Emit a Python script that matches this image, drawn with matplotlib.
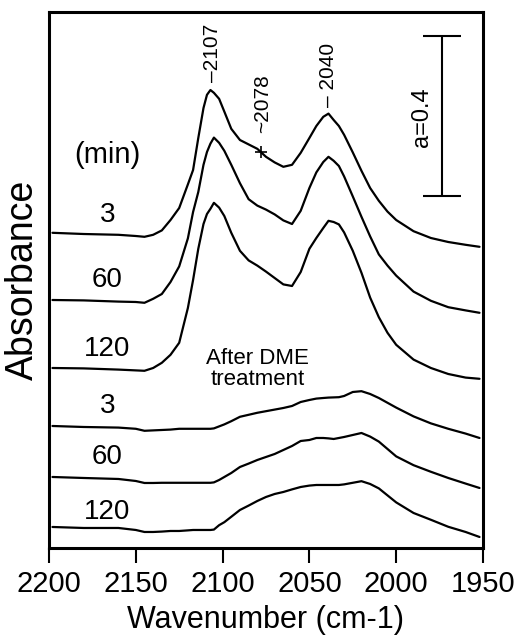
import numpy as np
import matplotlib
matplotlib.use("Agg")
import matplotlib.pyplot as plt

plt.rcParams['font.family'] = ['Liberation Sans', 'DejaVu Sans']

# wavenumber grid (cm-1) shared by all spectra
wavenumber = [2198, 2180, 2160, 2150, 2145, 2140, 2135, 2130, 2125, 2120,
              2117, 2114, 2111, 2109, 2107, 2105, 2102, 2099, 2095, 2090,
              2085, 2080, 2075, 2070, 2065, 2060, 2055, 2050, 2046, 2042,
              2039, 2036, 2033, 2030, 2025, 2020, 2015, 2010, 2005, 2000,
              1990, 1980, 1970, 1960, 1952]

# absorbance traces as displayed (vertically offset)
before_3 = [0.788, 0.785, 0.783, 0.780, 0.778, 0.783, 0.794, 0.820, 0.850, 0.909,
            0.945, 1.025, 1.100, 1.133, 1.145, 1.138, 1.123, 1.091, 1.048, 1.020,
            1.009, 0.998, 0.978, 0.964, 0.953, 0.958, 0.988, 1.025, 1.055, 1.078,
            1.086, 1.070, 1.055, 1.033, 0.989, 0.943, 0.900, 0.868, 0.841, 0.820,
            0.792, 0.775, 0.765, 0.758, 0.753]
before_60 = [0.620, 0.619, 0.616, 0.615, 0.613, 0.623, 0.635, 0.665, 0.704, 0.774,
             0.840, 0.890, 0.958, 0.990, 1.011, 1.026, 1.013, 0.993, 0.958, 0.912,
             0.872, 0.856, 0.846, 0.834, 0.819, 0.810, 0.843, 0.900, 0.939, 0.965,
             0.978, 0.968, 0.955, 0.929, 0.879, 0.828, 0.779, 0.734, 0.706, 0.681,
             0.641, 0.618, 0.602, 0.594, 0.588]
before_120 = [0.450, 0.449, 0.446, 0.444, 0.443, 0.450, 0.463, 0.483, 0.513, 0.600,
              0.670, 0.748, 0.810, 0.835, 0.848, 0.863, 0.851, 0.830, 0.788, 0.743,
              0.719, 0.706, 0.691, 0.675, 0.659, 0.655, 0.690, 0.748, 0.775, 0.800,
              0.818, 0.815, 0.809, 0.789, 0.743, 0.688, 0.626, 0.577, 0.538, 0.508,
              0.471, 0.450, 0.435, 0.426, 0.423]
after_3 = [0.305, 0.3025, 0.301, 0.298, 0.293, 0.294, 0.295, 0.296, 0.298, 0.298,
           0.298, 0.298, 0.298, 0.298, 0.298, 0.299, 0.304, 0.309, 0.317, 0.328,
           0.333, 0.338, 0.342, 0.346, 0.350, 0.355, 0.365, 0.370, 0.3735, 0.375,
           0.376, 0.3765, 0.377, 0.380, 0.390, 0.392, 0.385, 0.375, 0.363, 0.351,
           0.329, 0.3115, 0.298, 0.286, 0.275]
after_60 = [0.1775, 0.175, 0.1725, 0.1675, 0.1625, 0.1625, 0.163, 0.163, 0.163, 0.163,
            0.163, 0.163, 0.163, 0.163, 0.163, 0.164, 0.170, 0.1775, 0.1875, 0.2025,
            0.211, 0.220, 0.2275, 0.235, 0.245, 0.255, 0.2675, 0.270, 0.275, 0.275,
            0.274, 0.2725, 0.275, 0.2775, 0.2825, 0.2875, 0.2785, 0.266, 0.2475, 0.229,
            0.207, 0.1905, 0.175, 0.161, 0.150]
after_120 = [0.0525, 0.050, 0.050, 0.045, 0.040, 0.040, 0.041, 0.0425, 0.0425, 0.044,
             0.045, 0.045, 0.045, 0.045, 0.045, 0.046, 0.057, 0.0645, 0.078, 0.095,
             0.106, 0.1175, 0.1275, 0.135, 0.140, 0.1465, 0.1525, 0.156, 0.1575, 0.1575,
             0.1575, 0.1575, 0.1575, 0.159, 0.163, 0.167, 0.160, 0.149, 0.1315, 0.114,
             0.0875, 0.0705, 0.053, 0.040, 0.0275]

spectra = [before_3, before_60, before_120, after_3, after_60, after_120]
time_labels = ['3', '60', '120', '3', '60', '120']
label_pos = [0.8325, 0.670, 0.4975, 0.355, 0.2275, 0.090]

peak_labels = ['\u20132107', '~2078', '\u2013 2040']
peak_pos = [2106, 2077, 2039]
scale_bar = 0.4

fig = plt.figure(figsize=(5.19, 6.36), dpi=100)
ax = fig.add_axes([0.0944, 0.1384, 0.8362, 0.8427])

for y in spectra:
    ax.plot(wavenumber, y, color='black', linewidth=1.6,
            solid_joinstyle='round', solid_capstyle='round')

for lab, ypos in zip(time_labels, label_pos):
    ax.text(2166.5, ypos, lab, fontsize=20, ha='center', va='center')
ax.text(2166.5, 0.9825, '(min)', fontsize=21, ha='center', va='center')
ax.text(2080, 0.4475, 'After DME\ntreatment', fontsize=16, ha='center',
        va='center', linespacing=0.95)

# peak annotations
ax.text(peak_pos[0], 1.165, peak_labels[0], rotation=90, fontsize=15,
        ha='center', va='bottom')
ax.text(peak_pos[1], 1.0375, peak_labels[1], rotation=90, fontsize=15,
        ha='center', va='bottom')
ax.text(peak_pos[2], 1.1025, peak_labels[2], rotation=90, fontsize=15,
        ha='center', va='bottom')
shoulder_y = np.interp(2078, wavenumber[::-1], before_3[::-1])
ax.plot([2078], [shoulder_y], marker='+', color='black', markersize=8, mew=1.2)

# scale bar
ax.errorbar([1973.6], [0.88 + scale_bar / 2], yerr=scale_bar / 2, color='black',
            capsize=14, capthick=1.5, elinewidth=1.5)
ax.text(1985.3, 1.076, 'a=0.4', rotation=90, fontsize=17, ha='center', va='center')

ax.set_xlim(2200, 1950)
ax.set_ylim(0, 1.34)
ax.set_xticks([2200, 2150, 2100, 2050, 2000, 1950])
ax.set_yticks([])
ax.tick_params(axis='x', direction='out', length=11, width=1.5, labelsize=21, pad=5)
for s in ax.spines.values():
    s.set_linewidth(2.2)
ax.set_xlabel('Wavenumber (cm-1)', fontsize=22, labelpad=5)
ax.set_ylabel('Absorbance', fontsize=27, labelpad=6)

fig.savefig('out.png', dpi=100)
